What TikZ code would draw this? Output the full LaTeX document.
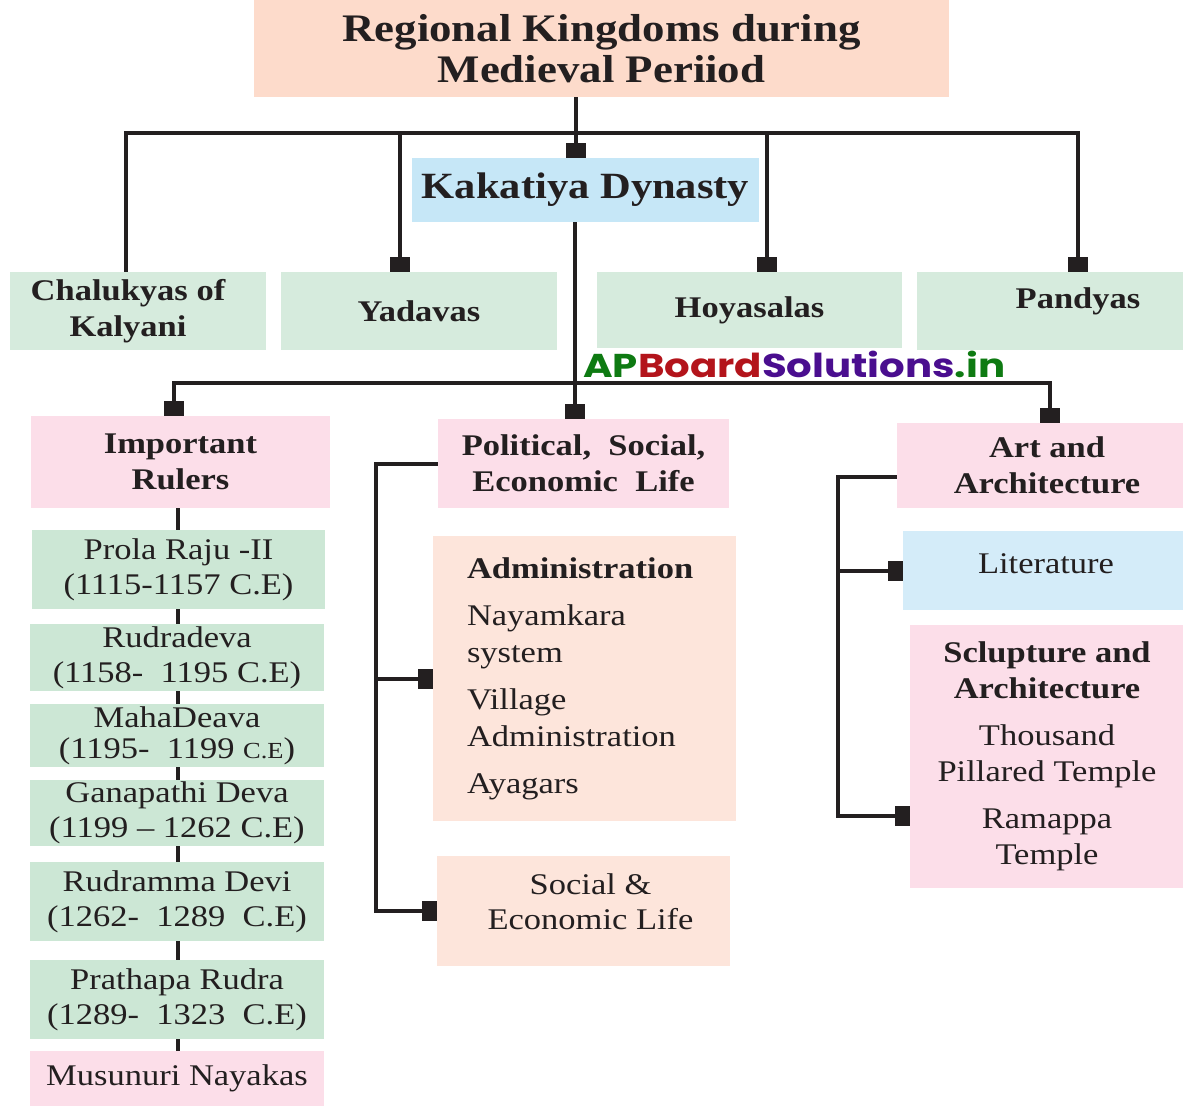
\documentclass[tikz,border=0pt]{standalone}
\usepackage{graphicx}
\usepackage{fontspec}
\setmainfont{Liberation Serif}[FakeStretch=1.15]
\newfontfamily\markfont{Poppins}
\usetikzlibrary{arrows.meta}

\definecolor{ink}{HTML}{231F20}
\definecolor{titlepeach}{HTML}{FDDBCB}
\definecolor{kakblue}{HTML}{C6E7F7}
\definecolor{mint}{HTML}{D6EBDD}
\definecolor{rosy}{HTML}{FCDEE9}
\definecolor{rulergreen}{HTML}{CCE7D5}
\definecolor{softpeach}{HTML}{FDE5DB}
\definecolor{litblue}{HTML}{D4ECF9}
\definecolor{wmgreen}{HTML}{0E7A12}
\definecolor{wmred}{HTML}{B3141B}
\definecolor{wmpurple}{HTML}{4A0E8F}

\begin{document}
\begin{tikzpicture}[x=1pt,y=-1pt,
  box/.style={draw=none, inner sep=0pt, align=center, text=ink,
    font=\fontsize{30}{35}\selectfont},
  hd/.style={box, font=\fontsize{30}{36}\selectfont\bfseries},
  link/.style={draw=ink, line width=4pt, line join=miter},
  sq/.style={-{Square[length=15pt,width=20pt]}},
  sqboth/.style={{Square[length=15pt,width=20pt]}-{Square[length=15pt,width=20pt]}},
]
\useasboundingbox (0,0) rectangle (1183,1106);

% ---- top level ----
\node[box, fill=titlepeach, minimum width=695, minimum height=97,
  font=\fontsize{39}{41}\selectfont\bfseries] (title) at (601.5,48.5)
  {Regional Kingdoms during\\Medieval Periiod};
\node[box, fill=kakblue, minimum width=347, minimum height=64,
  font=\fontsize{37}{40}\selectfont\bfseries] (kak) at (585.5,190) {Kakatiya Dynasty};

% ---- neighbouring kingdoms ----
\node[hd, fill=mint, minimum width=256, minimum height=78,
  label={[hd, xshift=-10pt]center:{Chalukyas of\\Kalyani}}] (chal) at (138,311) {};
\node[hd, fill=mint, minimum width=276, minimum height=78] (yad) at (419,311) {Yadavas};
\node[hd, fill=mint, minimum width=305, minimum height=76] (hoy) at (749.5,310) {Hoyasalas};
\node[hd, fill=mint, minimum width=322, minimum height=78,
  label={[hd, yshift=10pt]center:Pandyas}] (pan) at (1078,311) {};

% ---- site mark ----
\node[inner sep=0pt, anchor=west, font=\markfont\bfseries\fontsize{33}{36}\selectfont] (mark) at (583,364)
  {\scalebox{1.22}[1]{\textcolor{wmgreen}{AP}\textcolor{wmred}{Board}\textcolor{wmpurple}{Solutions}\textcolor{wmgreen}{.in}}};

% ---- rulers column ----
\node[hd, fill=rosy, minimum width=299, minimum height=92] (rulers) at (180.5,462) {Important\\Rulers};
\node[box, fill=rulergreen, minimum width=293, minimum height=79] (prola) at (178.5,569.5) {Prola Raju -II\\(1115-1157 C.E)};
\node[box, fill=rulergreen, minimum width=294, minimum height=67] (rudra) at (177,657.5) {Rudradeva\\(1158-\ \ 1195 C.E)};
\node[box, fill=rulergreen, minimum width=294, minimum height=63,
  font=\fontsize{30}{31}\selectfont] (maha) at (177,735.5)
  {MahaDeava\\(1195-\ \ 1199 {\fontsize{23}{25}\selectfont C.E})};
\node[box, fill=rulergreen, minimum width=294, minimum height=66] (gana) at (177,813) {Ganapathi Deva\\(1199 -- 1262 C.E)};
\node[box, fill=rulergreen, minimum width=294, minimum height=79] (rudramma) at (177,901.5) {Rudramma Devi\\(1262-\ \ 1289\ \ C.E)};
\node[box, fill=rulergreen, minimum width=294, minimum height=79] (pratha) at (177,999.5) {Prathapa Rudra\\(1289-\ \ 1323\ \ C.E)};
\node[box, fill=rosy, minimum width=294, minimum height=55] (musu) at (177,1078.5) {Musunuri Nayakas};

% ---- political, social, economic column ----
\node[hd, fill=rosy, minimum width=291, minimum height=89] (political) at (583.5,463.5)
  {Political,\ \ Social,\\Economic\ \ Life};
\node[box, fill=softpeach, minimum width=303, minimum height=285, text width=235,
  inner xsep=34pt, align=left, font=\fontsize{30}{37}\selectfont] (admin) at (584.5,678.5)
  {\textbf{Administration}\\[10pt]Nayamkara\\system\\[10pt]Village\\Administration\\[10pt]Ayagars};
\node[box, fill=softpeach, minimum width=293, minimum height=110,
  label={[box, xshift=7pt, yshift=9pt]center:{Social \&\\Economic Life}}] (soc) at (583.5,911) {};

% ---- art and architecture column ----
\node[hd, fill=rosy, minimum width=300, minimum height=85] (art) at (1047,465.5) {Art and\\Architecture};
\node[box, fill=litblue, minimum width=286, minimum height=79,
  label={[box, yshift=7pt]center:Literature}] (lit) at (1046,570.5) {};
\node[box, fill=rosy, minimum width=274, minimum height=263, font=\fontsize{30}{36}\selectfont] (sculp) at (1047,756.5)
  {\textbf{Sclupture and}\\\textbf{Architecture}\\[11pt]Thousand\\Pillared Temple\\[11pt]Ramappa\\Temple};

% ---- connectors: top tier ----
\coordinate (top) at (576,133);
\coordinate (kl) at (126,133);
\coordinate (kr) at (1078,133);
\coordinate (ky) at (400,133);
\coordinate (kh) at (767,133);
\draw[link] (top |- title.south) -- (top);
\draw[link, sq] (top) -- (top |- kak.north);
\draw[link, sq] (kl |- chal.north) -- (kl) -- (kr) -- (kr |- pan.north);
\draw[link, sq] (ky) -- (ky |- yad.north);
\draw[link, sq] (kh) -- (kh |- hoy.north);

% ---- connectors: Kakatiya branches ----
\coordinate (mid) at (575,383);
\coordinate (ml) at (174,383);
\coordinate (mr) at (1050,383);
\draw[link] (mid |- kak.south) -- (mid);
\draw[link, sqboth] (ml |- rulers.north) -- (ml) -- (mr) -- (mr |- art.north);
\draw[link, sq] (mid) -- (mid |- political.north);

% ---- connectors: ruler chain ----
\coordinate (rx) at (178,0);
\foreach \a/\b in {rulers/prola, prola/rudra, rudra/maha, maha/gana,
                   gana/rudramma, rudramma/pratha, pratha/musu}
  \draw[link] (rx |- \a.south) -- (rx |- \b.north);

% ---- connectors: political bracket ----
\coordinate (px) at (376,0);
\draw[link, sq] (political.west) -- (px |- political.west) -- (px |- soc.west) -- (soc.west);
\draw[link, sq] (px |- admin.west) -- (admin.west);

% ---- connectors: art bracket ----
\coordinate (ax) at (838,0);
\coordinate (aw) at ([yshift=-11pt]art.west);
\coordinate (sw) at ([yshift=-59.5pt]sculp.west);
\draw[link, sq] (aw) -- (ax |- aw) -- (ax |- sw) -- (sw);
\draw[link, sq] (ax |- lit.west) -- (lit.west);
\end{tikzpicture}
\end{document}
